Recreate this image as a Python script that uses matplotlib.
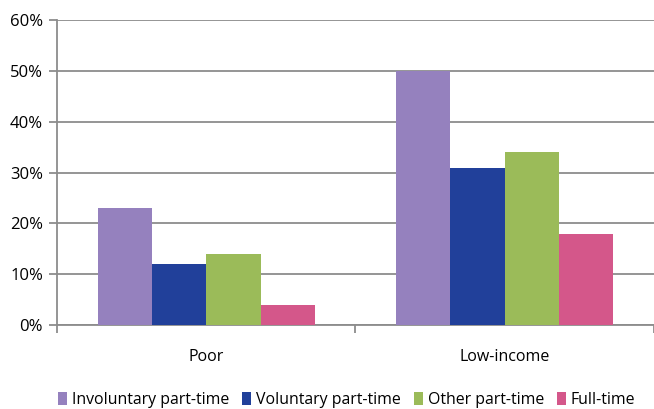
import numpy as np
import matplotlib.pyplot as plt

plt.rcParams['font.family'] = ['Open Sans', 'DejaVu Sans']

groups = ["Poor", "Low-income"]
series = ["Involuntary part-time", "Voluntary part-time", "Other part-time", "Full-time"]
involuntary = [23, 50]
voluntary = [12, 31]
other = [14, 34]
fulltime = [4, 18]
values = [involuntary, voluntary, other, fulltime]
colors = ["#9581BE", "#21409A", "#9BBB59", "#D4578A"]

fig = plt.figure(figsize=(6.54, 4.09), dpi=100)
ax = fig.add_axes([0.087, 0.205, 0.913, 0.746])

x = np.arange(len(groups))
w = 0.182
for i, (vals, c) in enumerate(zip(values, colors)):
    ax.bar(x + (i - 1.5) * w, vals, w, color=c, label=series[i], zorder=3)

ax.set_ylim(0, 60)
ax.set_xlim(-0.5, 1.49)
ax.set_yticks(range(0, 61, 10))
ax.set_yticklabels([f"{v}%" for v in range(0, 61, 10)], fontsize=12)
ax.yaxis.grid(True, color="#8c8c8c", linewidth=1.3, zorder=0)
ax.set_xticks([-0.5, 0.5, 1.5])
ax.set_xticklabels([])
ax.set_xticks(x, minor=True)
ax.set_xticklabels(groups, minor=True, fontsize=11.5)
ax.tick_params(axis='x', which='minor', length=0, pad=17)
ax.tick_params(axis='x', which='major', length=6, color="#8c8c8c", width=1.3)
ax.tick_params(axis='y', length=6, color="#8c8c8c", width=1.3, pad=4)
for s in ["top", "right"]:
    ax.spines[s].set_visible(False)
for s in ["left", "bottom"]:
    ax.spines[s].set_color("#8c8c8c")
    ax.spines[s].set_linewidth(1.3)

fig.legend(loc="lower center", ncol=4, frameon=False, fontsize=11.4,
           handlelength=0.6, handleheight=0.9, handletextpad=0.3,
           columnspacing=0.8, borderaxespad=0.2, bbox_to_anchor=(0.53, -0.02))

fig.savefig("out.png", dpi=100)
